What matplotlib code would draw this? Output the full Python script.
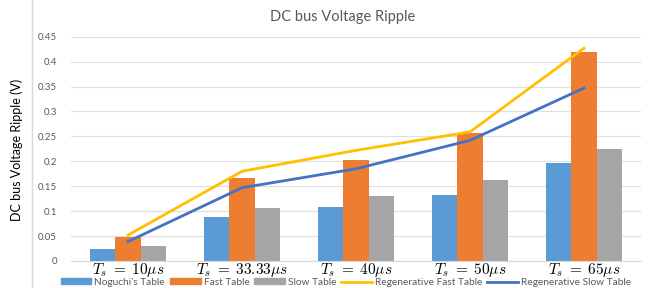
import numpy as np
import matplotlib.pyplot as plt
from matplotlib.patches import Patch
from matplotlib.lines import Line2D

plt.rcParams['font.family'] = ['Lato', 'DejaVu Sans']
plt.rcParams['mathtext.fontset'] = 'cm'

labels = [r'$T_s\;=\;10\mu s$', r'$T_s\;=\;33.33\mu s$', r'$T_s\;=\;40\mu s$',
          r'$T_s\;=\;50\mu s$', r'$T_s\;=\;65\mu s$']
noguchi = [0.025, 0.089, 0.108, 0.133, 0.197]
fast = [0.048, 0.167, 0.203, 0.257, 0.419]
slow = [0.030, 0.107, 0.130, 0.163, 0.225]
regen_fast = [0.052, 0.180, 0.222, 0.259, 0.427]
regen_slow = [0.039, 0.147, 0.185, 0.242, 0.347]

c_blue = '#5B9BD5'
c_orange = '#ED7D31'
c_gray = '#A5A5A5'
c_yellow = '#FFC000'
c_dblue = '#4472C4'
txt = '#595959'

fig = plt.figure(figsize=(6.48, 2.88), dpi=100)
ax = fig.add_axes([71/648, 1-261/288, 570/648, (261-36.7)/288])

x = np.arange(len(labels))
w = 0.224
ax.bar(x - w, noguchi, w, color=c_blue, zorder=2)
ax.bar(x, fast, w, color=c_orange, zorder=2)
ax.bar(x + w, slow, w, color=c_gray, zorder=2)
ax.plot(x, regen_fast, color=c_yellow, lw=2, zorder=3)
ax.plot(x, regen_slow, color=c_dblue, lw=2, zorder=3)

ax.set_xlim(-0.5, len(labels) - 0.5)
ax.set_ylim(0, 0.45)
ax.set_yticks(np.arange(0, 0.451, 0.05))
ax.set_yticklabels(['0', '0.05', '0.1', '0.15', '0.2', '0.25', '0.3', '0.35', '0.4', '0.45'])
ax.yaxis.grid(True, color='#E0E0E0', lw=0.9, zorder=0)
ax.set_xticks(x)
ax.set_xticklabels(labels, fontsize=11, color='black')
ax.tick_params(axis='y', length=0, labelsize=7, labelcolor=txt, pad=10)
ax.tick_params(axis='x', length=0, pad=0)
for s in ['top', 'right', 'left']:
    ax.spines[s].set_visible(False)
ax.spines['bottom'].set_color('#D9D9D9')

fig.text(17/648, 1-150/288, 'DC bus Voltage Ripple (V)', rotation=90,
         ha='center', va='center', fontsize=9, color='black')
fig.text(343/648, 1-17/288, 'DC bus Voltage Ripple', ha='center', va='center',
         fontsize=10.5, color=txt)
fig.add_artist(Line2D([32/648, 32/648], [0, 1], color='#D9D9D9', lw=1))

handles = [Patch(color=c_blue), Patch(color=c_orange), Patch(color=c_gray),
           Line2D([], [], color=c_yellow, lw=2), Line2D([], [], color=c_dblue, lw=2)]
names = ["Noguchi's Table", 'Fast Table', 'Slow Table',
         'Regenerative Fast Table', 'Regenerative Slow Table']
fig.legend(handles, names, loc='center', bbox_to_anchor=(346/648, 1-282.5/288),
           ncol=5, frameon=False, fontsize=7.3, labelcolor=txt, handlelength=3.0,
           handleheight=0.55, handletextpad=0.3, columnspacing=0.5, borderpad=0)

fig.savefig('out.png', dpi=100)
